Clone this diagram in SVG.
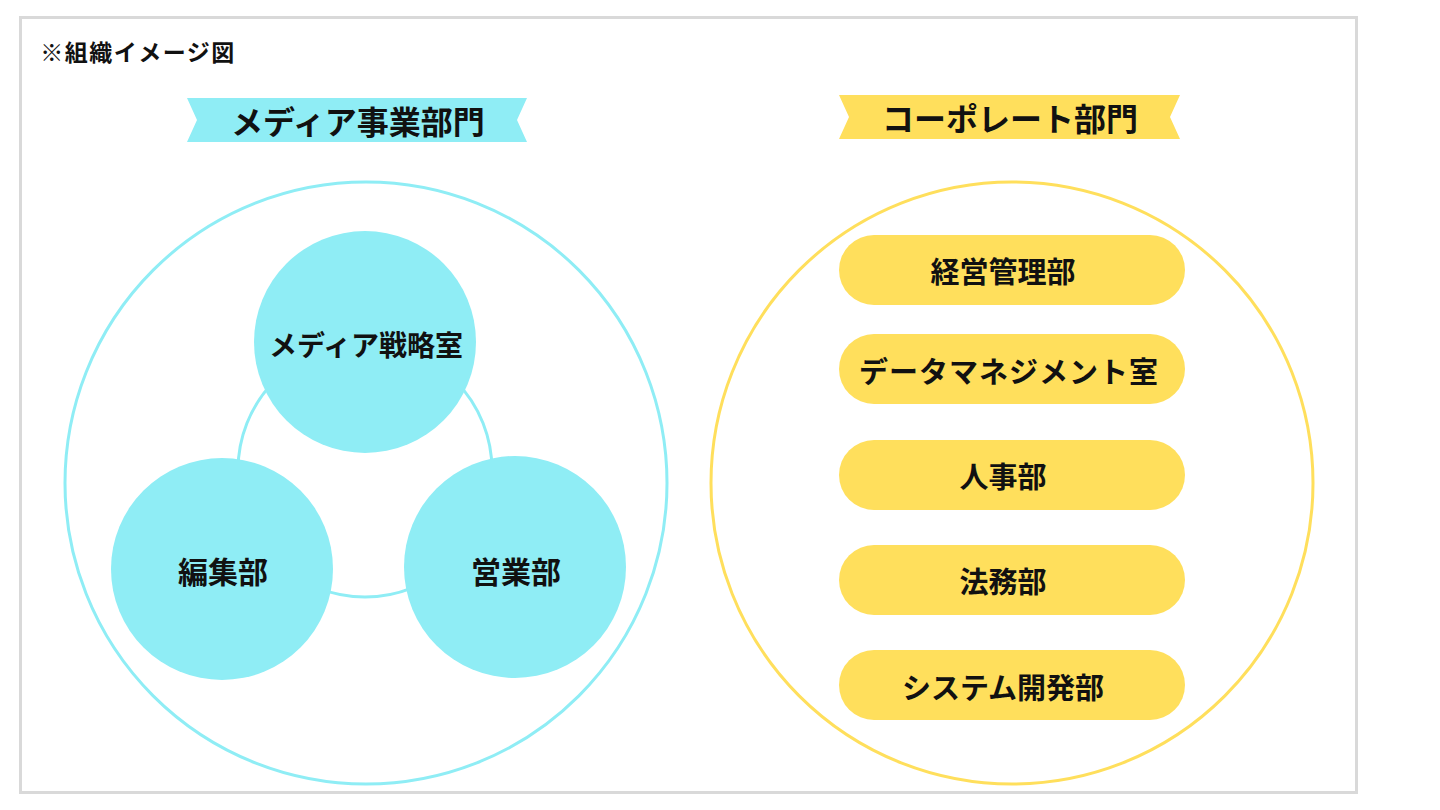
<svg xmlns="http://www.w3.org/2000/svg" width="1440" height="810" viewBox="0 0 1440 810">
<style>
text{font-family:"Noto Sans CJK JP","Noto Sans",sans-serif;font-weight:700;fill:#111;text-anchor:middle;dominant-baseline:central}
.cy{fill:#8fedf5}
.ye{fill:#ffdf5c}
.pill text{font-size:29px}
</style>
<rect width="1440" height="810" fill="#fff"/>
<rect x="20.5" y="17.5" width="1336" height="775" fill="none" stroke="#d9d9d9" stroke-width="3"/>
<text x="138" y="51" style="font-size:23px;letter-spacing:1.5px">※組織イメージ図</text>

<g id="media-banner">
<polygon class="cy" points="187,98 527,98 517,120 527,142 187,142 197,120"/>
<text x="358" y="120" style="font-size:32px">メディア事業部門</text>
</g>
<g id="corp-banner">
<polygon class="ye" points="839,95 1180,95 1170,117 1180,139 839,139 849,117"/>
<text x="1010" y="117" style="font-size:32px">コーポレート部門</text>
</g>

<g id="media-area">
<circle cx="366" cy="483" r="301" fill="none" stroke="#8fedf5" stroke-width="3"/>
</g>
<g id="corp-area">
<circle cx="1012" cy="483" r="301" fill="none" stroke="#ffdf5c" stroke-width="3"/>
</g>

<g id="connectors">
<circle cx="365" cy="470" r="127" fill="none" stroke="#8fedf5" stroke-width="3"/>
</g>

<g id="strategy">
<circle class="cy" cx="365" cy="342" r="111"/>
<text x="366" y="344" style="font-size:28px">メディア戦略室</text>
</g>
<g id="editorial">
<circle class="cy" cx="222" cy="569" r="111"/>
<text x="223" y="570" style="font-size:30px">編集部</text>
</g>
<g id="sales">
<circle class="cy" cx="515" cy="567" r="111"/>
<text x="516" y="570" style="font-size:30px">営業部</text>
</g>

<g id="keiei" class="pill">
<rect class="ye" x="839" y="235" width="346" height="70" rx="35"/>
<text x="1003" y="270">経営管理部</text>
</g>
<g id="data" class="pill">
<rect class="ye" x="839" y="334" width="346" height="70" rx="35"/>
<text x="1009" y="370" style="letter-spacing:1px">データマネジメント室</text>
</g>
<g id="jinji" class="pill">
<rect class="ye" x="839" y="440" width="346" height="70" rx="35"/>
<text x="1003" y="475">人事部</text>
</g>
<g id="houmu" class="pill">
<rect class="ye" x="839" y="545" width="346" height="70" rx="35"/>
<text x="1003" y="580">法務部</text>
</g>
<g id="system" class="pill">
<rect class="ye" x="839" y="650" width="346" height="70" rx="35"/>
<text x="1003" y="686">システム開発部</text>
</g>
</svg>
